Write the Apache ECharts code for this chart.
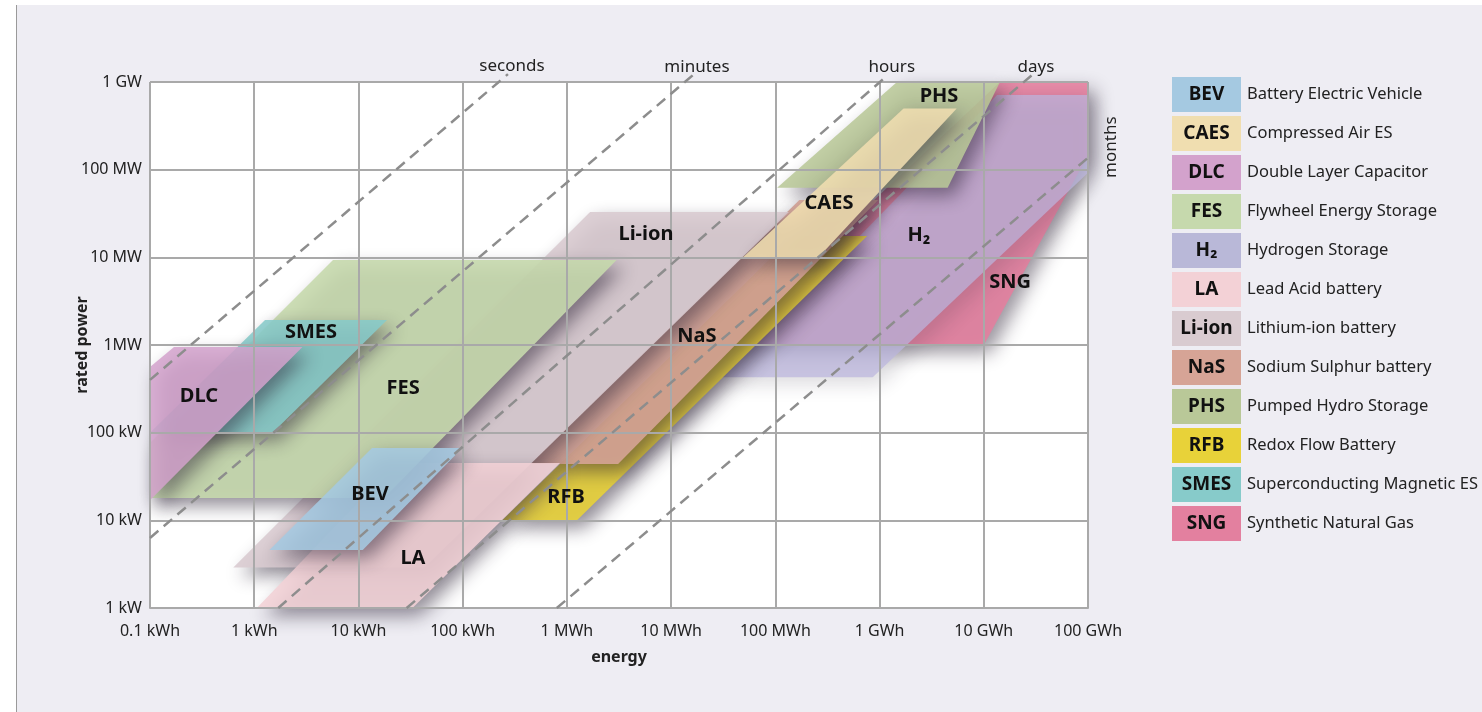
<!DOCTYPE html>
<html>
<head>
<meta charset="utf-8">
<title>Energy storage technologies</title>
<script src="https://cdn.jsdelivr.net/npm/echarts@6/dist/echarts.min.js"></script>
<style>
  html, body { margin: 0; padding: 0; background: #fff; }
  #panel { position: absolute; left: 16px; top: 5px; right: 0; bottom: 0; background: #eeedf3; border-left: 1px solid #9a9a9a; }
  #root { position: absolute; left: 0; top: 0; width: 1482px; height: 712px; }
</style>
</head>
<body>
<div id="panel"></div>
<div id="root"></div>
<script>
// axis tick labels, one per decade
const energyTicks = ['0.1 kWh', '1 kWh', '10 kWh', '100 kWh', '1 MWh', '10 MWh', '100 MWh', '1 GWh', '10 GWh', '100 GWh'];
const powerTicks = ['1 kW', '10 kW', '100 kW', '1MW', '10 MW', '100 MW', '1 GW'];

// technologies in legend order
const techs = ['BEV', 'CAES', 'DLC', 'FES', 'H₂', 'LA', 'Li-ion', 'NaS', 'PHS', 'RFB', 'SMES', 'SNG'];
const techNames = ['Battery Electric Vehicle', 'Compressed Air ES', 'Double Layer Capacitor', 'Flywheel Energy Storage',
  'Hydrogen Storage', 'Lead Acid battery', 'Lithium-ion battery', 'Sodium Sulphur battery', 'Pumped Hydro Storage',
  'Redox Flow Battery', 'Superconducting Magnetic ES', 'Synthetic Natural Gas'];
const techColors = ['#a5c9e1', '#f0deb0', '#d3a2cc', '#c6d9ad', '#b9b8d8', '#f3d1d6', '#d9cbd0', '#d6a496', '#b9c898', '#e8d239', '#87cbca', '#e3809f'];
// fill used in the plot (the hydrogen area is more see-through)
const areaColors = ['#a5c9e1', '#f0deb0', '#d3a2cc', '#c6d9ad', '#bbb6de', '#f3d1d6', '#d9cbd0', '#d6a496', '#b9c898', '#e8d239', '#87cbca', '#e3809f'];
const areaOpacity = [0.88, 0.88, 0.85, 0.9, 0.72, 0.88, 0.9, 0.9, 0.88, 0.9, 0.88, 0.9];
const shadowAlpha = [0.55, 0.55, 0.55, 0.55, 0.2, 0.55, 0.55, 0.55, 0.55, 0.55, 0.55, 0.5];

// area corners of each technology, [energy kWh, power kW]
const areaBEV = [[13.5, 67], [99, 67], [11, 4.6], [1.4, 4.6]];
const areaCAES = [[1.7e6, 5e5], [5.5e6, 5e5], [2.6e5, 1e4], [4.9e4, 1e4]];
const areaDLC = [[0.1, 560], [0.17, 950], [2.9, 950], [0.1, 17]];
const areaFES = [[0.1, 18], [0.1, 76], [5.7, 9300], [3000, 9300], [17.6, 18]];
const areaH2 = [[1.34e7, 7.1e5], [1e8, 7.1e5], [1e8, 9.2e4], [8.6e5, 430], [3.1e4, 430]];
const areaLA = [[23, 45], [860, 45], [33, 1], [1.06, 1]];
const areaLiion = [[1670, 3.3e4], [1.35e5, 3.3e4], [43, 2.9], [0.63, 2.9]];
const areaNaS = [[1.7e5, 4.5e4], [9.7e5, 4.5e4], [3100, 44], [440, 44]];
const areaPHS = [[1.47e6, 1e6], [1.43e7, 1e6], [4.5e6, 6.2e4], [1.04e5, 6.2e4]];
const areaRFB = [[1.5e5, 1.75e4], [7.6e5, 1.75e4], [1250, 10], [240, 10]];
const areaSMES = [[1.27, 1930], [18.8, 1930], [1.5, 100], [0.1, 100]];
const areaSNG = [[1.43e7, 1e6], [1e8, 1e6], [1e8, 1.46e5], [1e7, 1000], [2.9e4, 1000]];
const areas = [areaBEV, areaCAES, areaDLC, areaFES, areaH2, areaLA, areaLiion, areaNaS, areaPHS, areaRFB, areaSMES, areaSNG];

// where each technology's name sits, [energy kWh, power kW]
const labelAt = [[12.9, 20], [3.27e5, 4.17e4], [0.295, 262], [26.8, 324], [2.39e6, 1.8e4], [33.3, 3.72],
  [5740, 1.85e4], [1.77e4, 1268], [3.72e6, 6.9e5], [982, 18.5], [3.5, 1406], [1.79e7, 5200]];

// storage duration guide lines, start and end [energy kWh, power kW]
const timeLines = ['seconds', 'minutes', 'hours', 'days', 'months'];
const timeFrom = [[0.1, 400], [0.1, 6.3], [1.7, 1], [29, 1], [800, 1]];
const timeTo = [[272, 1.23e6], [1.62e4, 1.2e6], [1.2e6, 1.2e6], [2.9e7, 1.2e6], [1.22e8, 1.67e5]];

const drawOrder = ['SNG', 'H₂', 'PHS', 'RFB', 'NaS', 'Li-ion', 'CAES', 'LA', 'FES', 'BEV', 'SMES', 'DLC'];

const FONT = '"Noto Sans", sans-serif';
const lg = Math.log10;
const chart = echarts.init(document.getElementById('root'));

let series = drawOrder.map(name => {
  const i = techs.indexOf(name);
  const pts = areas[i];
  return {
    name: name,
    type: 'custom',
    silent: true,
    z: 2,
    itemStyle: { color: techColors[i] },
    data: pts.map(p => [lg(p[0]), lg(p[1])]),
    renderItem: (params, api) => {
      if (params.dataIndex !== 0) return null;
      return {
        type: 'polygon',
        shape: { points: pts.map(p => api.coord([lg(p[0]), lg(p[1])])) },
        style: {
          fill: areaColors[i],
          opacity: areaOpacity[i],
          shadowBlur: 18,
          shadowOffsetX: 7,
          shadowOffsetY: 8,
          shadowColor: 'rgba(35,25,45,' + shadowAlpha[i] + ')'
        }
      };
    }
  };
});

timeLines.forEach((name, i) => {
  series.push({
    type: 'line',
    silent: true,
    symbol: 'none',
    clip: false,
    z: 5,
    lineStyle: { color: '#8d8d8d', width: 2.5, type: [11, 7] },
    data: [[lg(timeFrom[i][0]), lg(timeFrom[i][1])], [lg(timeTo[i][0]), lg(timeTo[i][1])]]
  });
});

// duration names at the top end of the guide lines
series.push({
  type: 'custom',
  silent: true,
  z: 6,
  data: timeTo.map(p => [lg(p[0]), lg(p[1])]),
  renderItem: (params, api) => {
    const i = params.dataIndex;
    const pt = api.coord([api.value(0), api.value(1)]);
    const vertical = timeLines[i] === 'months';
    return {
      type: 'text',
      x: pt[0] + (vertical ? 14 : 4),
      y: pt[1] + (vertical ? -3 : -8),
      rotation: vertical ? Math.PI / 2 : 0,
      style: { text: timeLines[i], fill: '#222', fontSize: 17, fontFamily: FONT, align: 'center', verticalAlign: 'middle' }
    };
  }
});

// technology names inside the areas
series.push({
  type: 'custom',
  silent: true,
  z: 7,
  data: labelAt.map(p => [lg(p[0]), lg(p[1])]),
  renderItem: (params, api) => {
    const pt = api.coord([api.value(0), api.value(1)]);
    return {
      type: 'text',
      x: pt[0],
      y: pt[1],
      style: { text: techs[params.dataIndex], fill: '#111', fontSize: 20, fontWeight: 'bold', fontFamily: FONT, align: 'center', verticalAlign: 'middle' }
    };
  }
});

const rich = { t: { fontSize: 16.5, fontFamily: FONT, color: '#222', padding: [0, 0, 0, 6] } };
techs.forEach((t, i) => {
  rich['b' + i] = {
    width: 69, height: 35, lineHeight: 35, align: 'center',
    backgroundColor: techColors[i], fontSize: 19, fontWeight: 'bold', fontFamily: FONT, color: '#111'
  };
});

const gridLine = { color: '#a9a9a9', width: 2 };

const option = {
  animation: false,
  textStyle: { fontFamily: FONT },
  grid: { left: 150, top: 82, width: 938, height: 526, show: true, backgroundColor: '#fff', borderWidth: 0 },
  legend: {
    orient: 'vertical',
    left: 1162,
    top: 72,
    itemGap: 4,
    itemWidth: 0,
    itemHeight: 0,
    selectedMode: false,
    data: techs,
    formatter: name => {
      const i = techs.indexOf(name);
      return '{b' + i + '|' + name + '}{t|' + techNames[i] + '}';
    },
    textStyle: { rich: rich }
  },
  xAxis: {
    type: 'value',
    min: -1,
    max: 8,
    interval: 1,
    z: 4,
    name: 'energy',
    nameLocation: 'middle',
    nameGap: 41,
    nameTextStyle: { fontSize: 16, fontWeight: 'bold', color: '#222', fontFamily: FONT },
    axisLine: { lineStyle: gridLine },
    axisTick: { show: false },
    splitLine: { lineStyle: gridLine },
    axisLabel: {
      formatter: v => energyTicks[Math.round(v) + 1],
      fontSize: 16, color: '#222', margin: 15, fontFamily: FONT
    }
  },
  yAxis: {
    type: 'value',
    min: 0,
    max: 6,
    interval: 1,
    z: 4,
    name: 'rated power',
    nameLocation: 'middle',
    nameGap: 60,
    nameMoveOverlap: false,
    nameTextStyle: { fontSize: 16, fontWeight: 'bold', color: '#222', fontFamily: FONT },
    axisLine: { lineStyle: gridLine },
    axisTick: { show: false },
    splitLine: { lineStyle: gridLine },
    axisLabel: {
      formatter: v => powerTicks[Math.round(v)],
      fontSize: 16, color: '#222', margin: 8, fontFamily: FONT
    }
  },
  series: series
};

chart.setOption(option);
</script>
</body>
</html>
